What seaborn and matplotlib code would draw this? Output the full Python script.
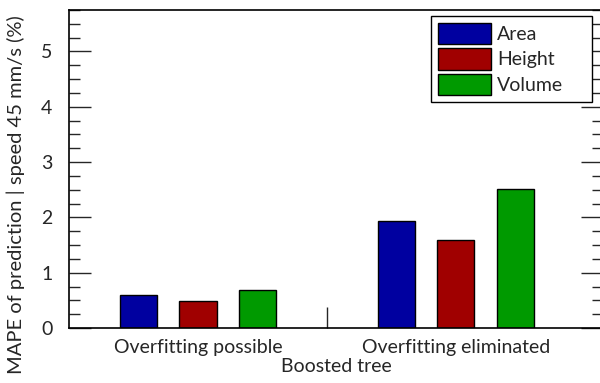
import matplotlib
matplotlib.use("Agg")
from matplotlib import pyplot as plt
from matplotlib.ticker import MultipleLocator, FixedLocator
import numpy as np
import pandas as pd
import seaborn as sb

# data
groups=["Overfitting possible","Overfitting eliminated"]
targets=["Area","Height","Volume"]
area=[0.60,1.94]
height=[0.48,1.59]
volume=[0.69,2.52]
colors=["#0000A0","#A00000","#009A00"]

rows=[]
for t,vals in zip(targets,[area,height,volume]):
    for g,v in zip(groups,vals):
        rows.append({"group":g,"target":t,"mape":v})
data=pd.DataFrame(rows)

sb.set_style("ticks")
plt.rcParams["font.family"]=["Lato","DejaVu Sans"]
fs=14

fig=plt.figure(figsize=(6,3.83),dpi=100)
ax=fig.add_axes([0.115,0.1436,0.89,0.8303])

sb.barplot(data=data,x="group",y="mape",hue="target",order=groups,hue_order=targets,
           palette=colors,width=0.69,gap=0.375,edgecolor="black",linewidth=1,
           saturation=1,errorbar=None,ax=ax)

ax.set_ylim(0,5.75)
ax.set_xlim(-0.5,1.57)
ax.yaxis.set_major_locator(MultipleLocator(1))
ax.yaxis.set_minor_locator(MultipleLocator(0.25))
ax.tick_params(axis="y",which="major",direction="in",length=16,width=1,left=True,right=True,labelsize=fs,pad=12)
ax.tick_params(axis="y",which="minor",direction="in",length=8,width=1,left=True,right=True)
ax.xaxis.set_minor_locator(FixedLocator([0.5]))
ax.tick_params(axis="x",which="major",length=0,labelsize=fs,pad=8)
ax.tick_params(axis="x",which="minor",direction="in",length=15,width=1,bottom=True,top=False)
for s in ax.spines.values():
    s.set_linewidth(1.2)
    s.set_color("black")

ax.set_xlabel("Boosted tree",fontsize=fs,labelpad=1)
ax.set_ylabel("MAPE of prediction | speed 45 mm/s (%)",fontsize=14.5)
ax.yaxis.set_label_coords(-0.082,0.42)

leg=ax.legend(loc="upper right",bbox_to_anchor=(0.678,0.5,0.301,0.481),mode="expand",fontsize=fs,
              frameon=True,fancybox=False,handlelength=2.73,handleheight=1.32,labelspacing=0.2,
              handletextpad=0.3,borderpad=0.35,borderaxespad=0)
leg.get_frame().set_edgecolor("black")
leg.get_frame().set_linewidth(1)
leg.get_frame().set_alpha(1)

fig.savefig("out.png",dpi=100)
